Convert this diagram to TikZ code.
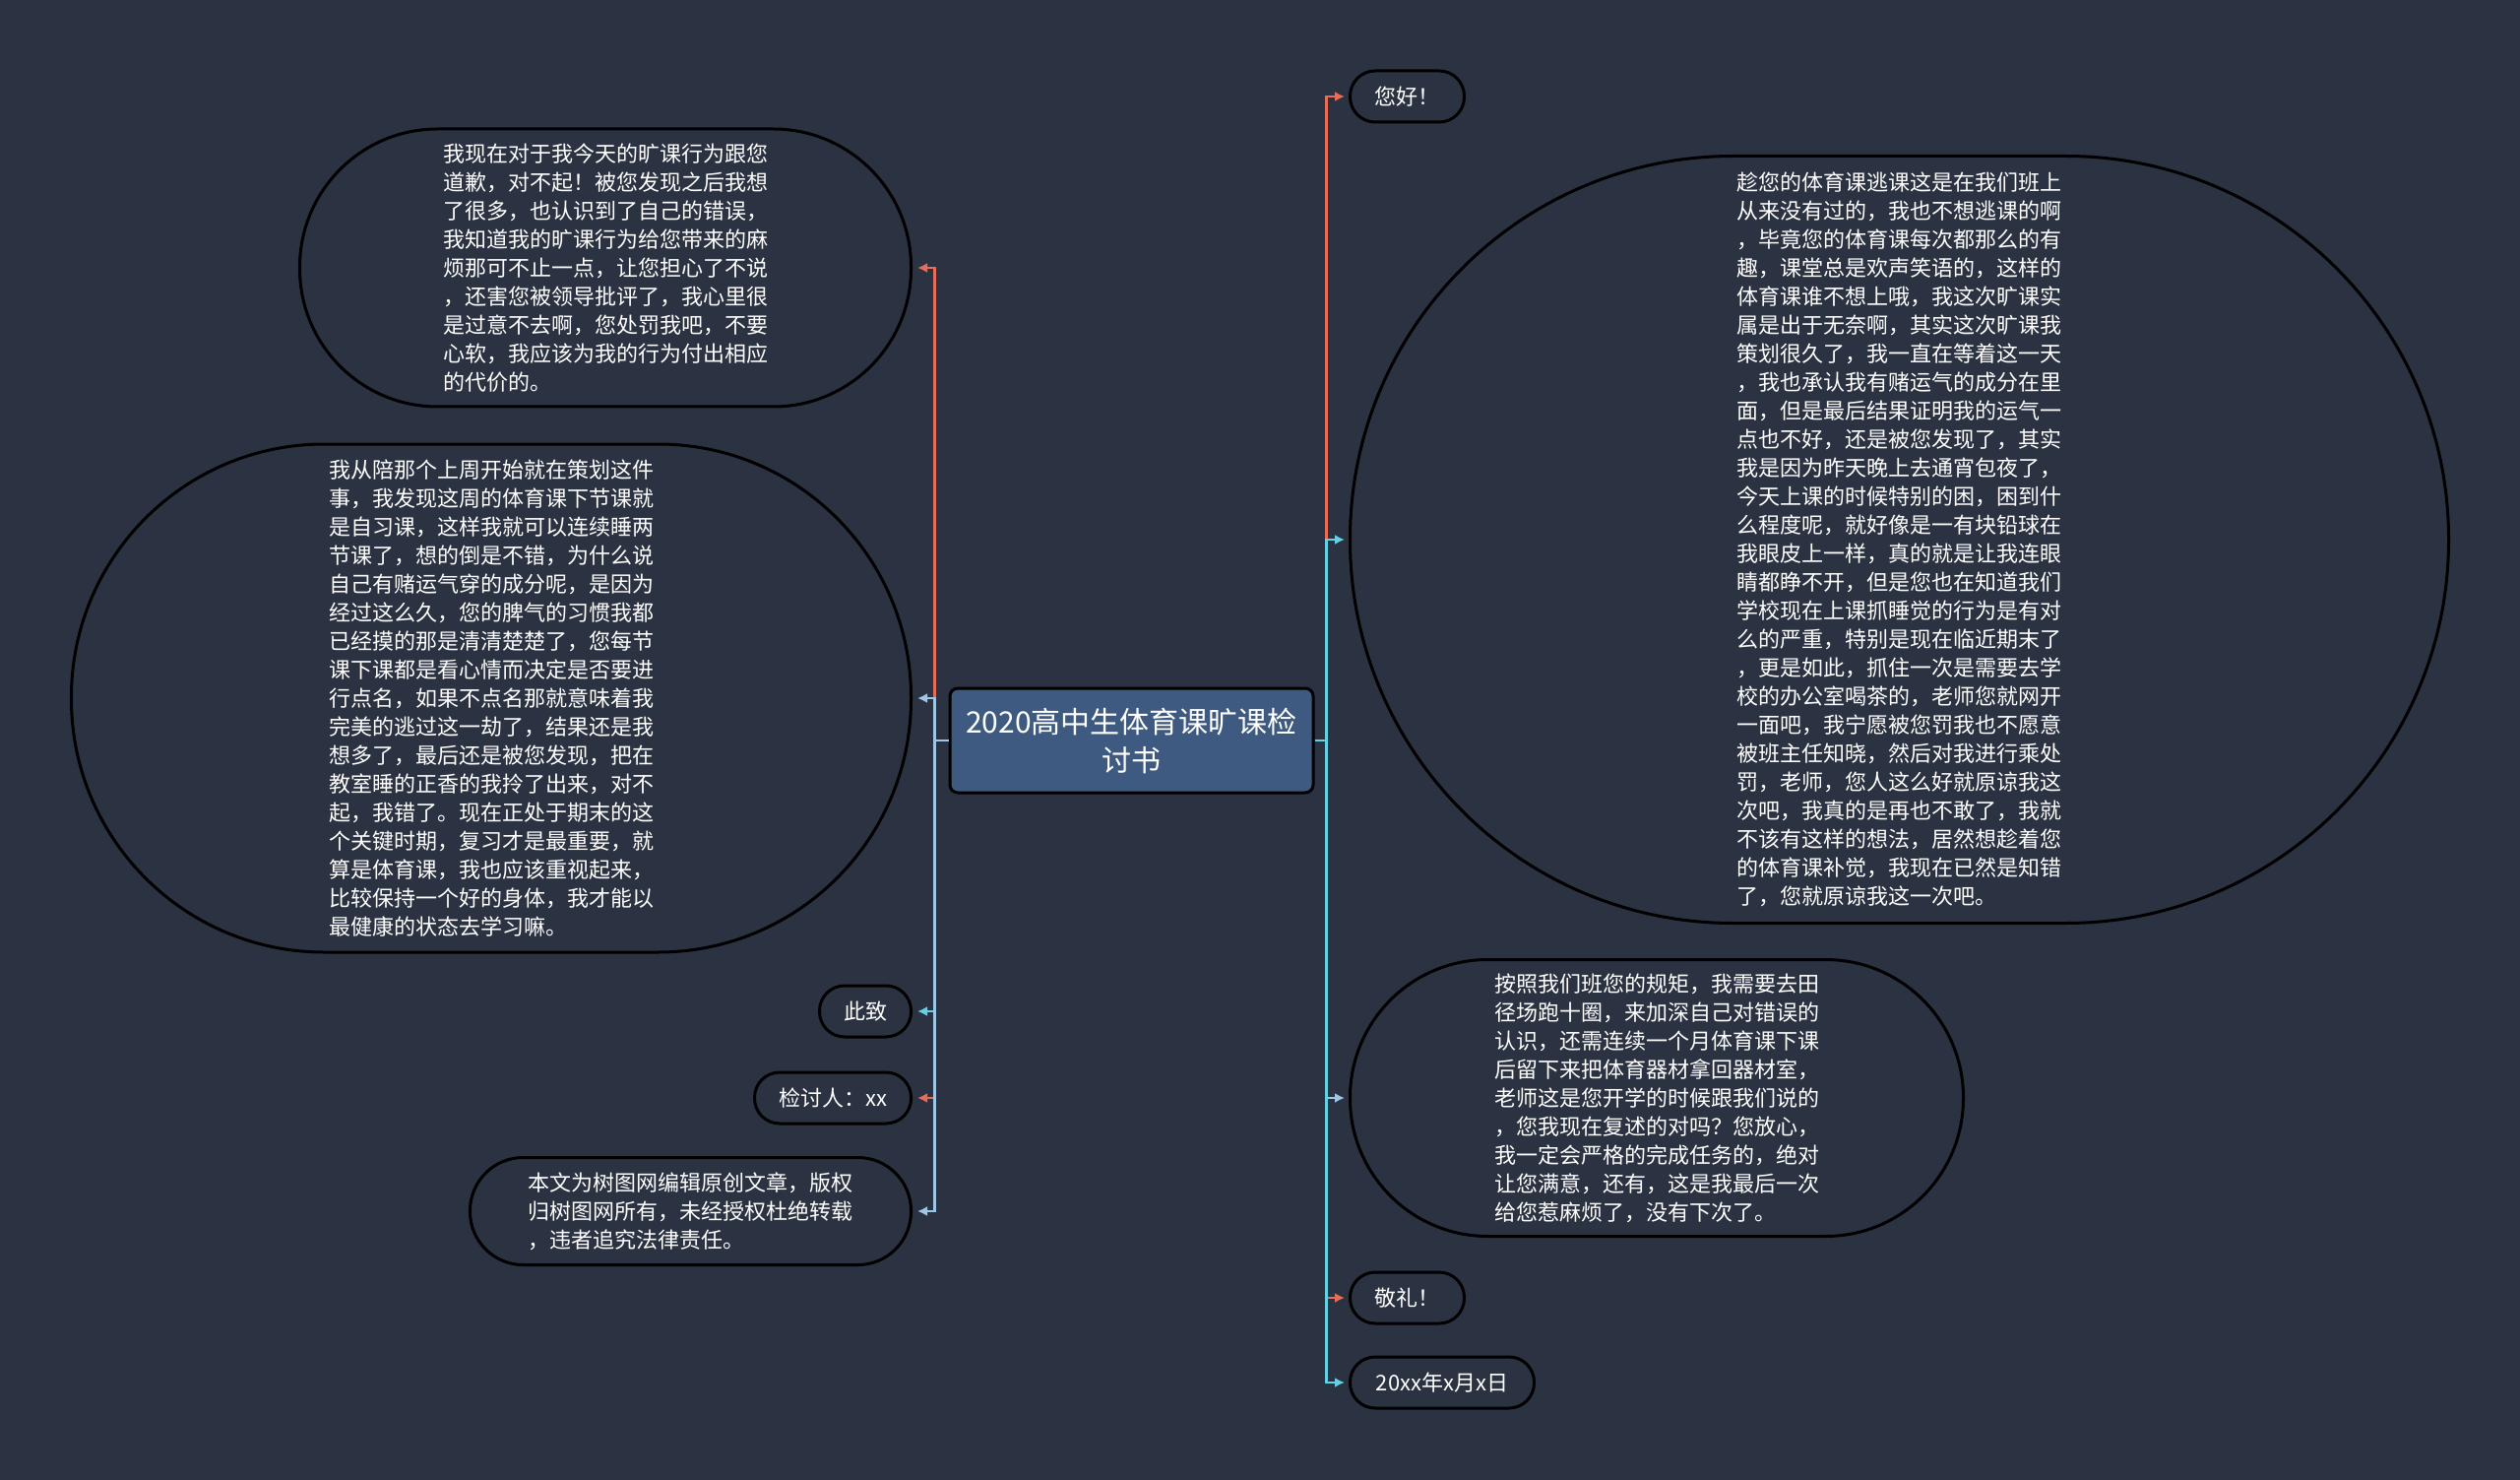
\documentclass[tikz,border=0pt]{standalone}
\usepackage{fontspec}
\setmainfont{Noto Sans CJK SC}
\usepackage{tikz}
\usetikzlibrary{arrows.meta}
\definecolor{bgc}{RGB}{43,50,66}
\definecolor{titlec}{RGB}{62,90,128}
\definecolor{redc}{RGB}{231,109,88}
\definecolor{cyanc}{RGB}{99,208,230}
\definecolor{bluec}{RGB}{160,198,230}

\begin{document}
\begin{tikzpicture}[x=1pt, y=-1pt, >={Latex[length=10pt,width=10pt]},
    leaf/.style={draw=black, line width=3pt, fill=bgc, text=white, align=left, inner sep=0pt,
      font=\fontsize{22}{29}\selectfont},
    conn/.style={->, line width=2.5pt}]
  % background
  \fill[bgc] (0,0) rectangle (2560,1503);
  % title
  \node[draw=black, line width=3pt, fill=titlec, rounded corners=8pt, text=white, align=center,
    minimum width=369pt, minimum height=106pt, inner sep=0pt, font=\fontsize{30}{39}\selectfont]
    (ctr) at (1149.5,752) {2020高中生体育课旷课检\\讨书};
  % left side
  \node[leaf, anchor=east, minimum width=621pt, minimum height=282pt, rounded corners=140pt] (L1) at (927,272)
    {我现在对于我今天的旷课行为跟您\\道歉，对不起！被您发现之后我想\\了很多，也认识到了自己的错误，\\我知道我的旷课行为给您带来的麻\\烦那可不止一点，让您担心了不说\\，还害您被领导批评了，我心里很\\是过意不去啊，您处罚我吧，不要\\心软，我应该为我的行为付出相应\\的代价的。};
  \node[leaf, anchor=east, minimum width=853pt, minimum height=516pt, rounded corners=257pt] (L2) at (927,709)
    {我从陪那个上周开始就在策划这件\\事，我发现这周的体育课下节课就\\是自习课，这样我就可以连续睡两\\节课了，想的倒是不错，为什么说\\自己有赌运气穿的成分呢，是因为\\经过这么久，您的脾气的习惯我都\\已经摸的那是清清楚楚了，您每节\\课下课都是看心情而决定是否要进\\行点名，如果不点名那就意味着我\\完美的逃过这一劫了，结果还是我\\想多了，最后还是被您发现，把在\\教室睡的正香的我拎了出来，对不\\起，我错了。现在正处于期末的这\\个关键时期，复习才是最重要，就\\算是体育课，我也应该重视起来，\\比较保持一个好的身体，我才能以\\最健康的状态去学习嘛。};
  \node[leaf, anchor=east, minimum width=93pt, minimum height=52pt, rounded corners=25.5pt] (L3) at (927,1027) {此致};
  \node[leaf, anchor=east, minimum width=159pt, minimum height=52pt, rounded corners=25.5pt] (L4) at (927,1115) {检讨人：xx};
  \node[leaf, anchor=east, minimum width=448pt, minimum height=109pt, rounded corners=54pt] (L5) at (927,1230)
    {本文为树图网编辑原创文章，版权\\归树图网所有，未经授权杜绝转载\\，违者追究法律责任。};
  % right side
  \node[leaf, anchor=west, minimum width=116pt, minimum height=52pt, rounded corners=25.5pt] (R1) at (1370,98) {您好！};
  \node[leaf, anchor=west, minimum width=1116pt, minimum height=779pt, rounded corners=389pt] (R2) at (1370,548)
    {趁您的体育课逃课这是在我们班上\\从来没有过的，我也不想逃课的啊\\，毕竟您的体育课每次都那么的有\\趣，课堂总是欢声笑语的，这样的\\体育课谁不想上哦，我这次旷课实\\属是出于无奈啊，其实这次旷课我\\策划很久了，我一直在等着这一天\\，我也承认我有赌运气的成分在里\\面，但是最后结果证明我的运气一\\点也不好，还是被您发现了，其实\\我是因为昨天晚上去通宵包夜了，\\今天上课的时候特别的困，困到什\\么程度呢，就好像是一有块铅球在\\我眼皮上一样，真的就是让我连眼\\睛都睁不开，但是您也在知道我们\\学校现在上课抓睡觉的行为是有对\\么的严重，特别是现在临近期末了\\，更是如此，抓住一次是需要去学\\校的办公室喝茶的，老师您就网开\\一面吧，我宁愿被您罚我也不愿意\\被班主任知晓，然后对我进行乘处\\罚，老师，您人这么好就原谅我这\\次吧，我真的是再也不敢了，我就\\不该有这样的想法，居然想趁着您\\的体育课补觉，我现在已然是知错\\了，您就原谅我这一次吧。};
  \node[leaf, anchor=west, minimum width=623pt, minimum height=281pt, rounded corners=140pt] (R3) at (1370,1115)
    {按照我们班您的规矩，我需要去田\\径场跑十圈，来加深自己对错误的\\认识，还需连续一个月体育课下课\\后留下来把体育器材拿回器材室，\\老师这是您开学的时候跟我们说的\\，您我现在复述的对吗？您放心，\\我一定会严格的完成任务的，绝对\\让您满意，还有，这是我最后一次\\给您惹麻烦了，没有下次了。};
  \node[leaf, anchor=west, minimum width=116pt, minimum height=52pt, rounded corners=25.5pt] (R4) at (1370,1318) {敬礼！};
  \node[leaf, anchor=west, minimum width=187pt, minimum height=52pt, rounded corners=25.5pt] (R5) at (1370,1404) {20xx年x月x日};
  % branches
  \foreach \n/\c in {L1/redc, L2/bluec, L3/cyanc, L4/redc, L5/bluec}
    \draw[conn, \c] (ctr.west) -- ++(-14,0) |- ([xshift=5pt]\n.east);
  \foreach \n/\c in {R1/redc, R2/cyanc, R3/bluec, R4/redc, R5/cyanc}
    \draw[conn, \c] (ctr.east) -- ++(12,0) |- ([xshift=-4pt]\n.west);
\end{tikzpicture}
\end{document}
